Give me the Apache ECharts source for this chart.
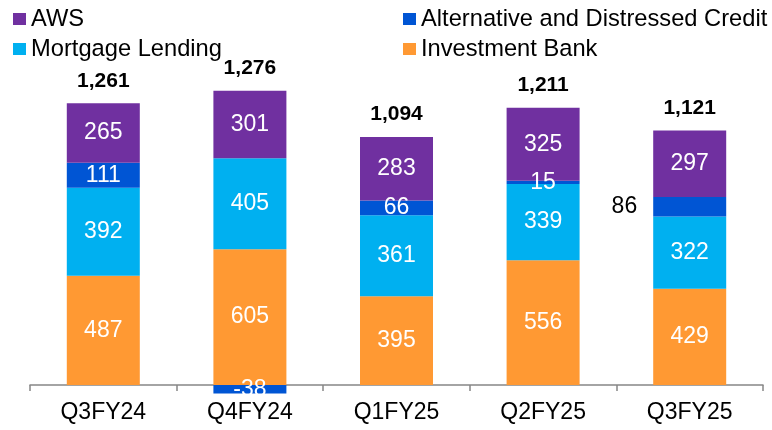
<!DOCTYPE html>
<html>
<head>
<meta charset="utf-8">
<script src="https://cdn.jsdelivr.net/npm/echarts@6/dist/echarts.min.js"></script>
<style>
  html, body { margin: 0; padding: 0; background: #fff; }
  #chart { width: 772px; height: 430px; }
</style>
</head>
<body>
<div id="chart"></div>
<script>
// quarters and segment values
var quarters = ['Q3FY24', 'Q4FY24', 'Q1FY25', 'Q2FY25', 'Q3FY25'];
var investmentBank = [487, 605, 395, 556, 429];
var mortgageLending = [392, 405, 361, 339, 322];
var altCredit = [111, -38, 66, 15, 86];
var aws = [265, 301, 283, 325, 297];
var totals = [1261, 1276, 1094, 1211, 1121];

var font = '"Liberation Sans", Arial, sans-serif';

var insideLabel = {
    show: true,
    position: 'inside',
    color: '#fff',
    fontSize: 23,
    fontFamily: font
};

// the 86 on the last bar sits outside, to the left
var altData = altCredit.map(function (v, i) {
    if (i === 4) {
        return {
            value: v,
            label: { position: 'left', color: '#000', distance: 16 }
        };
    }
    return v;
});

var legendText = { fontSize: 23.7, fontFamily: font, color: '#000', lineHeight: 24 };

var chart = echarts.init(document.getElementById('chart'));
chart.setOption({
    animation: false,
    grid: {
        left: 30,
        right: 9,
        top: 70.7,
        bottom: 22.55,
        outerBoundsMode: 'none'
    },
    legend: [{
        orient: 'vertical',
        left: 13,
        top: 7,
        padding: 0,
        itemWidth: 13,
        itemHeight: 12,
        itemGap: 6,
        icon: 'rect',
        textStyle: legendText,
        data: ['AWS', 'Mortgage Lending']
    }, {
        orient: 'vertical',
        left: 403,
        top: 7,
        padding: 0,
        itemWidth: 13,
        itemHeight: 12,
        itemGap: 6,
        icon: 'rect',
        textStyle: legendText,
        data: ['Alternative and Distressed Credit', 'Investment Bank']
    }],
    xAxis: {
        type: 'category',
        data: quarters,
        axisLine: { onZero: true, lineStyle: { color: '#868686', width: 1.5 } },
        axisTick: { show: true, length: 6, lineStyle: { color: '#868686', width: 1.5 } },
        // labels stay at the grid bottom, pull them up under the zero line
        axisLabel: { color: '#000', fontSize: 23, fontFamily: font, margin: -6 }
    },
    yAxis: {
        type: 'value',
        min: -100,
        max: 1400,
        show: false,
        splitLine: { show: false }
    },
    series: [{
        name: 'Investment Bank',
        type: 'bar',
        stack: 'seg',
        barWidth: 73,
        itemStyle: { color: '#FF9933' },
        label: insideLabel,
        data: investmentBank
    }, {
        name: 'Mortgage Lending',
        type: 'bar',
        stack: 'seg',
        barWidth: 73,
        itemStyle: { color: '#00B0F0' },
        label: insideLabel,
        data: mortgageLending
    }, {
        name: 'Alternative and Distressed Credit',
        type: 'bar',
        stack: 'seg',
        barWidth: 73,
        itemStyle: { color: '#0055D4' },
        label: insideLabel,
        data: altData
    }, {
        name: 'AWS',
        type: 'bar',
        stack: 'seg',
        barWidth: 73,
        itemStyle: { color: '#7030A0' },
        label: insideLabel,
        data: aws
    }, {
        // zero-height cap that carries the total labels
        name: 'Total',
        type: 'bar',
        stack: 'seg',
        barWidth: 73,
        itemStyle: { color: 'transparent' },
        label: {
            show: true,
            position: 'top',
            distance: 12,
            color: '#000',
            fontSize: 21,
            fontWeight: 'bold',
            fontFamily: font,
            formatter: function (p) {
                return totals[p.dataIndex].toLocaleString('en-US');
            }
        },
        data: totals.map(function () { return 0; })
    }]
});
</script>
</body>
</html>
